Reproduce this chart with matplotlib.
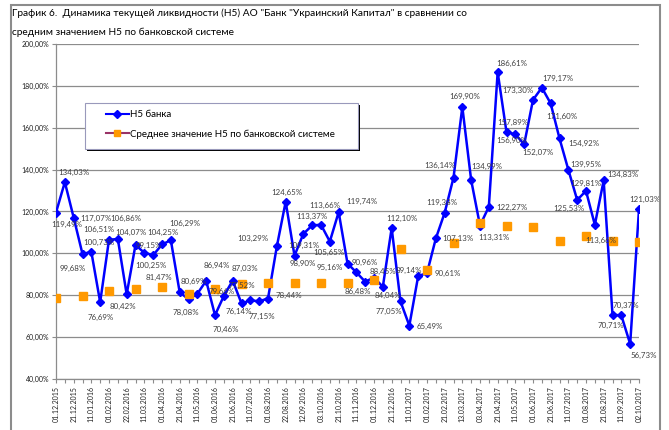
import matplotlib
matplotlib.use("Agg")
import matplotlib.pyplot as plt
from matplotlib.lines import Line2D
from matplotlib.patches import Rectangle
from matplotlib.ticker import FuncFormatter

plt.rcParams['font.family'] = ['Lato', 'DejaVu Sans']

# H5 банка, every 10 days
bank = [119.49, 134.03, 117.07, 99.68, 100.73, 76.69, 106.51, 106.86, 80.42, 104.07,
        100.25, 99.15, 104.25, 106.29, 81.47, 78.08, 80.69, 86.94, 70.46, 79.66,
        87.03, 76.14, 77.52, 77.15, 78.44, 103.29, 124.65, 98.90, 109.31, 113.37,
        113.66, 105.65, 119.74, 95.16, 90.96, 86.48, 88.45, 84.04, 112.10, 77.05,
        65.49, 89.14, 90.61, 107.13, 119.38, 136.14, 169.90, 134.99, 113.31, 122.27,
        186.61, 157.89, 156.90, 152.07, 173.30, 179.17, 171.60, 154.92, 139.95, 125.53,
        129.81, 113.66, 134.83, 70.71, 70.37, 56.73, 121.03]

# average H5 for the banking system (monthly, every 3rd point)
system = [78.8, 79.6, 81.9, 82.8, 83.8, 80.7, 83.0, 85.2, 85.7, 85.7, 86.0, 85.7,
          87.3, 101.9, 92.1, 104.8, 114.6, 113.1, 112.5, 106.0, 108.3, 105.8, 105.3]

date_labels = ['01.12.2015', '21.12.2015', '11.01.2016', '01.02.2016', '22.02.2016',
               '11.03.2016', '01.04.2016', '21.04.2016', '11.05.2016', '01.06.2016',
               '21.06.2016', '11.07.2016', '01.08.2016', '22.08.2016', '12.09.2016',
               '03.10.2016', '21.10.2016', '11.11.2016', '01.12.2016', '21.12.2016',
               '11.01.2017', '01.02.2017', '21.02.2017', '13.03.2017', '03.04.2017',
               '21.04.2017', '11.05.2017', '01.06.2017', '21.06.2017', '11.07.2017',
               '01.08.2017', '21.08.2017', '11.09.2017', '02.10.2017']

# label offsets in pixels (dx right, dy down)
offs = [(11, 12), (9, -10), (22, 1), (-10, 14), (8, -9), (1, 15), (-10, -10), (8, -21),
        (-4, 12), (-5, -12), (7, 13), (-4, -10), (1, -12), (14, -17), (-21, -15), (-3, 13),
        (-4, -12), (11, -15), (11, 14), (-2, -4), (12, -12), (-3, 8), (-8, -15), (3, 15),
        (21, -3), (-24, -8), (1, -9), (8, 8), (1, 12), (0, -9), (4, -19), (-1, 11),
        (23, -11), (-18, 4), (8, -10), (-7, 10), (9, -6), (5, 9), (10, -10), (-12, 10),
        (20, 1), (-9, -6), (21, 0), (22, 0), (-3, -10), (-14, -12), (2, -11), (16, -14),
        (14, 12), (23, 1), (14, -9), (6, -10), (-4, 6), (14, 8), (-15, -9), (16, -9),
        (11, 13), (24, 5), (17, -5), (-8, 9), (0, -7), (6, 16), (19, -6), (-2, 11),
        (5, -10), (14, 11), (6, -10)]

W, H = 669, 430
fig = plt.figure(figsize=(W / 100, H / 100), dpi=100)
fig.patch.set_facecolor('white')

# chart frame
fig.add_artist(Rectangle((11 / W, -0.05), 649 / W, (425 / H) + 0.05, transform=fig.transFigure,
                         fill=False, edgecolor='#8c8c8c', linewidth=1.5))

fig.text(12 / W, 1 - 13 / H, 'График 6.  Динамика текущей ликвидности (Н5) АО "Банк "Украинский Капитал" в сравнении со',
         fontsize=7.25, va='center', ha='left', color='#000000')
fig.text(12 / W, 1 - 32 / H, 'средним значением Н5 по банковской системе',
         fontsize=7.25, va='center', ha='left', color='#000000')

ax = fig.add_axes([56 / W, 1 - 379 / H, (639 - 56) / W, (379 - 44) / H])
x = list(range(len(bank)))
xs = list(range(0, len(bank), 3))

ax.plot(x, bank, color='#0000ff', linewidth=1.8, marker='D', markersize=4.5, zorder=3)
ax.plot(xs, system, linestyle='none', marker='s', markersize=5.5, color='#ff9900', zorder=4)

for i, v in enumerate(bank):
    dx, dy = offs[i]
    ax.annotate(f"{v:.2f}".replace('.', ',') + '%', (i, v), xytext=(dx, -dy),
                textcoords='offset pixels', ha='center', va='center',
                fontsize=5.7, color='#404040', zorder=5)

ax.set_xlim(0, len(bank) - 1)
ax.set_ylim(40, 200)
ax.set_yticks(range(40, 201, 20))
ax.yaxis.set_major_formatter(FuncFormatter(lambda v, p: f"{v:.2f}".replace('.', ',') + '%'))
ax.grid(axis='y', color='#8c8c8c', linewidth=0.9)
ax.set_axisbelow(True)

ax.set_xticks(x)
lbls = []
for i in x:
    lbls.append(date_labels[i // 2] if i % 2 == 0 else '')
ax.set_xticklabels(lbls, rotation=90, fontsize=5)
ax.tick_params(axis='x', length=3, color='#8c8c8c', pad=2, labelcolor='#202020')
ax.tick_params(axis='y', length=3, color='#8c8c8c', labelsize=5, pad=2, labelcolor='#202020')

for s in ['top', 'right']:
    ax.spines[s].set_visible(False)
for s in ['left', 'bottom']:
    ax.spines[s].set_color('#8c8c8c')
    ax.spines[s].set_linewidth(0.9)

# legend box with shadow, drawn by hand
ax.add_patch(Rectangle((87 / W, 1 - 151 / H), 273 / W, 46 / H, transform=fig.transFigure,
                       facecolor='#000000', edgecolor='none', zorder=6, clip_on=False))
ax.add_patch(Rectangle((85 / W, 1 - 149 / H), 273 / W, 46 / H, transform=fig.transFigure,
                       facecolor='white', edgecolor='#9999bb', linewidth=0.8, zorder=6.5,
                       clip_on=False))

handles = [Line2D([], [], color='#0000ff', linewidth=1.5, marker='D', markersize=4),
           Line2D([], [], color='#993366', linewidth=1.5, marker='s', markersize=5,
                  markerfacecolor='#ff9900', markeredgecolor='#ff9900')]
leg = ax.legend(handles, ['Н5 банка', 'Среднее значение Н5 по банковской системе'],
                loc='upper left', bbox_to_anchor=(106 / W, 1 - 110 / H),
                bbox_transform=fig.transFigure, frameon=False, fontsize=7,
                handlelength=2.35, borderpad=0, labelspacing=1.05,
                handletextpad=0.15, borderaxespad=0)
leg.set_zorder(7)

fig.savefig('out.png', dpi=100)
